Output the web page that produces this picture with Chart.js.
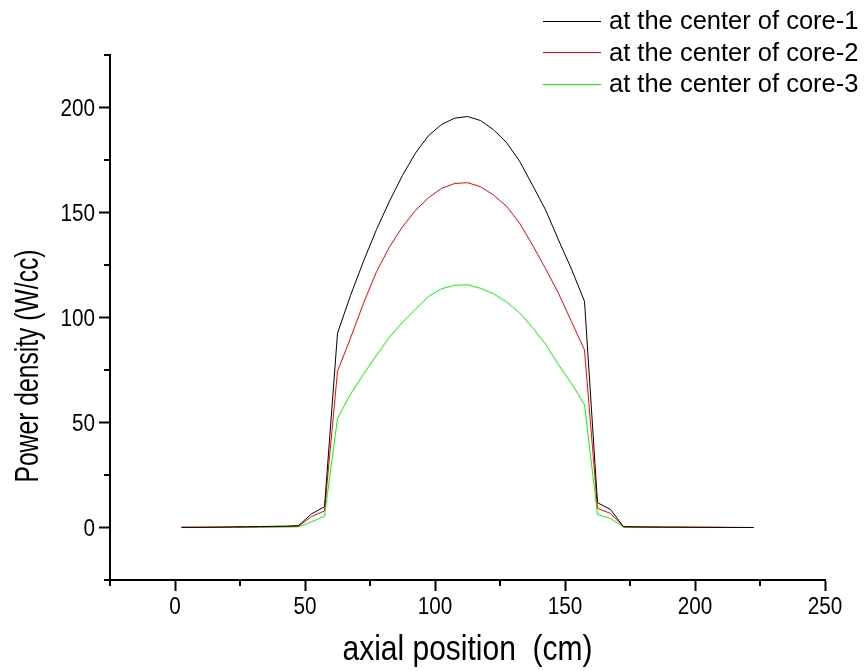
<!DOCTYPE html>
<html>
<head>
<meta charset="utf-8">
<script src="https://cdn.jsdelivr.net/npm/chart.js@4/dist/chart.umd.min.js"></script>
<style>
html,body{margin:0;padding:0;background:#ffffff;}
#wrap{width:865px;height:671px;position:relative;}
</style>
</head>
<body>
<div id="wrap"><canvas id="c" width="865" height="671"></canvas></div>
<script>
// ---- data ----
const axialPosition = [2.5,7.5,12.5,17.5,22.5,27.5,32.5,37.5,42.5,47.5,52.5,57.5,62.5,67.5,72.5,77.5,82.5,87.5,92.5,97.5,102.5,107.5,112.5,117.5,122.5,127.5,132.5,137.5,142.5,147.5,152.5,157.5,162.5,167.5,172.5,177.5,182.5,187.5,192.5,197.5,202.5,207.5,212.5,217.5,222.5];
const core1 = [0.1,0.1,0.15,0.2,0.3,0.35,0.45,0.55,0.65,0.9,6.5,9.9,92.5,110.5,126.8,141.9,155.4,167.7,178.3,186.6,191.9,194.9,195.7,193.8,189.4,183.3,174.5,163.0,151.3,136.9,123.0,107.7,11.8,8.6,0.4,0.3,0.25,0.2,0.2,0.15,0.1,0.1,0.05,0.05,0.0];
const core2 = [0.1,0.1,0.1,0.15,0.2,0.25,0.3,0.4,0.5,0.6,5.2,7.9,74.4,90.2,106.8,121.8,133.6,143.2,151.0,157.0,161.5,163.8,164.2,162.3,158.3,153.0,145.0,134.5,123.3,111.5,98.0,84.5,9.1,6.7,0.3,0.25,0.2,0.15,0.15,0.1,0.1,0.05,0.05,0.0,0.0];
const core3 = [0.05,0.05,0.05,0.1,0.1,0.1,0.15,0.15,0.2,0.3,2.7,5.4,52.0,63.5,73.0,82.0,90.7,97.7,104.0,110.0,113.7,115.3,115.6,113.9,111.3,107.4,102.3,95.2,87.3,77.5,68.6,58.5,6.2,4.3,0.2,0.15,0.1,0.1,0.1,0.05,0.05,0.05,0.0,0.0,0.0];
const seriesLabels = ['at the center of core-1','at the center of core-2','at the center of core-3'];
const xTitle = 'axial position  (cm)';
const yTitle = 'Power density (W/cc)';
const xLabelTicks = [0,50,100,150,200,250];
const yLabelTicks = [0,50,100,150,200];

// ---- styling ----
const FONT = '"Liberation Sans", Arial, Helvetica, sans-serif';
const seriesColors = ['#000000','#ff0000','#00ff00'];

function toPoints(ys){ return axialPosition.map((x,i)=>({x:x,y:ys[i]})); }

const datasets = [core1,core2,core3].map((ys,i)=>({
  label: seriesLabels[i],
  data: toPoints(ys),
  borderColor: seriesColors[i],
  backgroundColor: seriesColors[i],
  borderWidth: 1,
  pointRadius: 0,
  tension: 0,
  fill: false
}));

function condensedText(ctx, text, x, y, size, sx, align, rotate){
  ctx.save();
  ctx.translate(x, y);
  if (rotate) ctx.rotate(rotate);
  ctx.scale(sx, 1);
  ctx.font = size + 'px ' + FONT;
  ctx.textAlign = align;
  ctx.textBaseline = 'alphabetic';
  ctx.fillText(text, 0, 0);
  ctx.restore();
}

const decorPlugin = {
  id: 'decor',
  afterDraw(chart){
    const ctx = chart.ctx;
    const xs = chart.scales.x, ys = chart.scales.y;
    const area = chart.chartArea;
    ctx.save();
    // minor ticks
    ctx.strokeStyle = '#000';
    ctx.lineWidth = 2;
    for (let v = -25; v <= 250; v += 25){
      if (xLabelTicks.includes(v)) continue;
      const px = Math.round(xs.getPixelForValue(v));
      ctx.beginPath(); ctx.moveTo(px, area.bottom); ctx.lineTo(px, area.bottom + 6); ctx.stroke();
    }
    for (let v = -25; v <= 225; v += 25){
      if (yLabelTicks.includes(v)) continue;
      const py = Math.round(ys.getPixelForValue(v));
      ctx.beginPath(); ctx.moveTo(area.left, py); ctx.lineTo(area.left - 6, py); ctx.stroke();
    }
    ctx.fillStyle = '#000';
    // tick labels
    xLabelTicks.forEach(v => {
      condensedText(ctx, String(v), xs.getPixelForValue(v), area.bottom + 34, 23, 0.9, 'center', 0);
    });
    yLabelTicks.forEach(v => {
      condensedText(ctx, String(v), area.left - 15, ys.getPixelForValue(v) + 8.3, 23, 0.9, 'right', 0);
    });
    // axis titles
    condensedText(ctx, xTitle, (area.left + area.right)/2, 660, 35, 0.857, 'center', 0);
    condensedText(ctx, yTitle, 38, 366, 33, 0.748, 'center', -Math.PI/2);
    // legend
    ctx.font = '25.5px ' + FONT;
    ctx.textAlign = 'left';
    ctx.textBaseline = 'alphabetic';
    chart.data.datasets.forEach((ds,i)=>{
      const ly = 20.5 + i*31.6;
      ctx.strokeStyle = ds.borderColor;
      ctx.lineWidth = 1;
      ctx.beginPath(); ctx.moveTo(543, Math.round(ly)+0.5); ctx.lineTo(601, Math.round(ly)+0.5); ctx.stroke();
      ctx.fillStyle = '#000';
      ctx.fillText(ds.label, 609, ly + 8.5);
    });
    ctx.restore();
  }
};

new Chart(document.getElementById('c'), {
  type: 'line',
  data: { datasets: datasets },
  options: {
    responsive: false,
    animation: false,
    devicePixelRatio: 1,
    layout: { padding: { top: 55, right: 40, left: 0, bottom: 0 } },
    plugins: { legend: { display: false }, tooltip: { enabled: false } },
    scales: {
      x: {
        type: 'linear',
        min: -25, max: 250,
        afterFit: s => { s.height = 91; },
        ticks: {
          stepSize: 25, autoSkip: false, maxRotation: 0,
          padding: 3,
          font: { size: 22, family: FONT },
          callback: () => ''
        },
        grid: {
          drawOnChartArea: false, drawTicks: true, tickLength: 11, tickWidth: 2,
          tickColor: c => (c.tick && xLabelTicks.includes(c.tick.value)) ? '#000' : 'rgba(0,0,0,0)'
        },
        border: { display: true, color: '#000', width: 2 }
      },
      y: {
        type: 'linear',
        min: -25, max: 225,
        afterFit: s => { s.width = 110; },
        ticks: {
          stepSize: 25, autoSkip: false,
          padding: 4,
          font: { size: 22, family: FONT },
          callback: () => ''
        },
        grid: {
          drawOnChartArea: false, drawTicks: true, tickLength: 11, tickWidth: 2,
          tickColor: c => (c.tick && yLabelTicks.includes(c.tick.value)) ? '#000' : 'rgba(0,0,0,0)'
        },
        border: { display: true, color: '#000', width: 2 }
      }
    }
  },
  plugins: [decorPlugin]
});
</script>
</body>
</html>
